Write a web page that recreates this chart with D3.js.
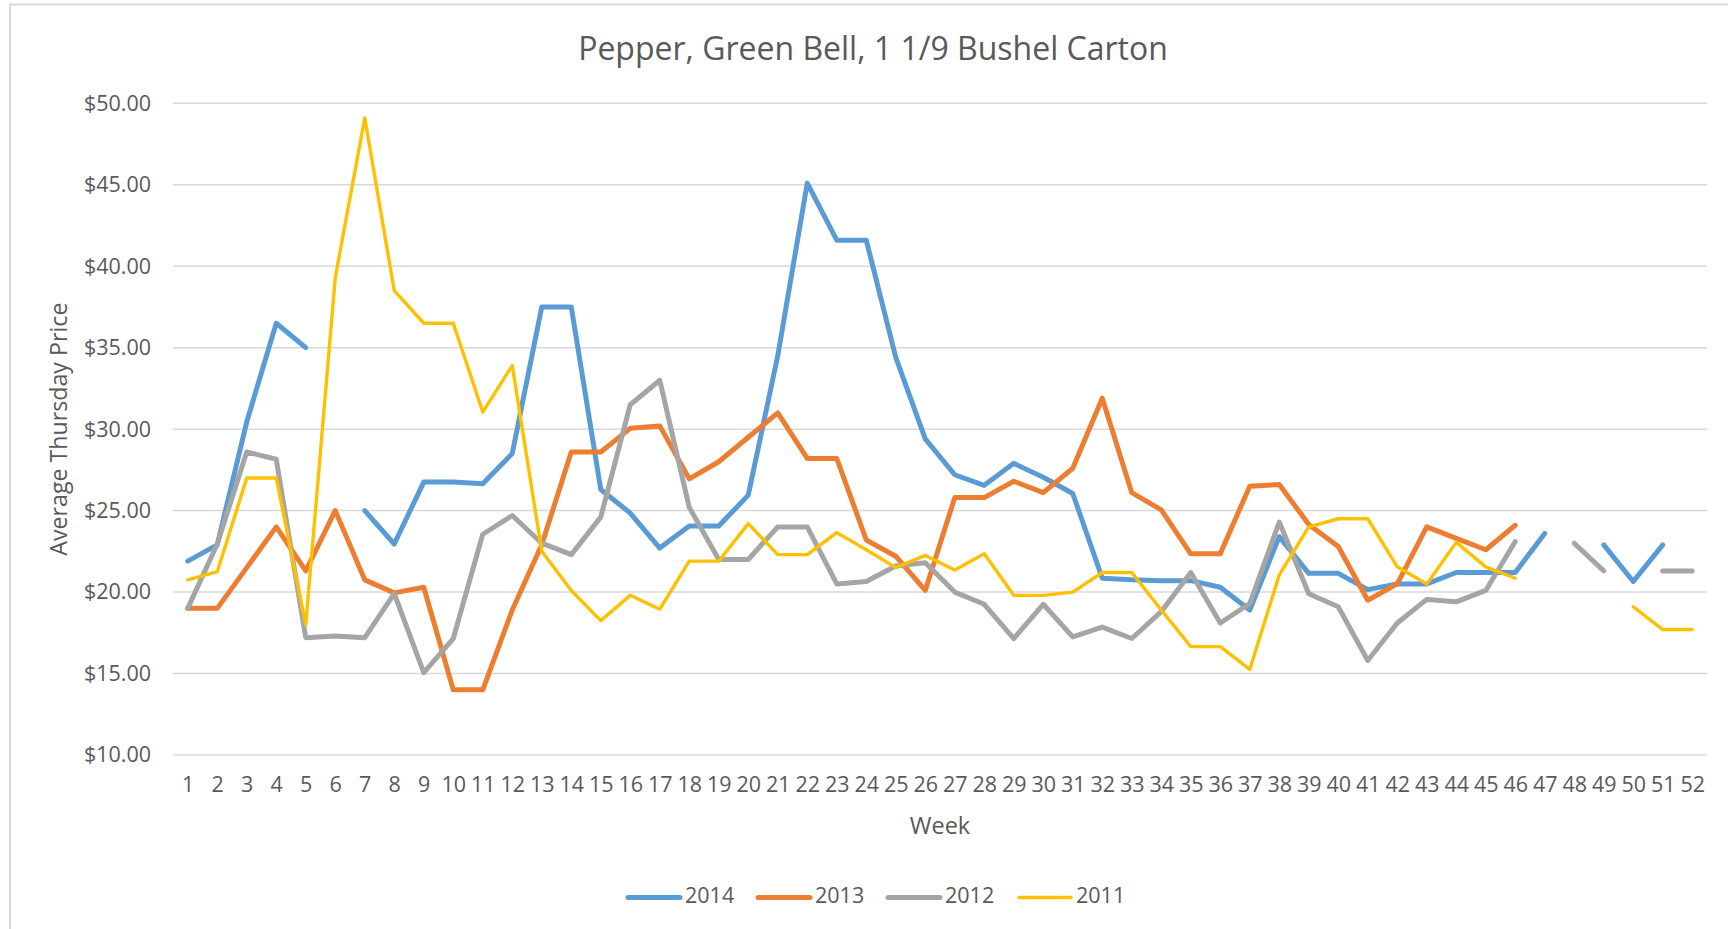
<!DOCTYPE html>
<html>
<head>
<meta charset="utf-8">
<script src="https://cdn.jsdelivr.net/npm/d3@7"></script>
<style>
  html, body { margin: 0; padding: 0; background: #fff; }
  svg { display: block; }
  text { font-family: "Open Sans", "Noto Sans", sans-serif; fill: #595959; }
</style>
</head>
<body>
<svg id="chart" width="1728" height="929"></svg>
<script>
const weeks = d3.range(1, 53);
const seriesNames = ["2014", "2013", "2012", "2011"];
const seriesColors = ["#5B9BD5", "#ED7D31", "#A5A5A5", "#FFC000"];
const seriesWidths = [5, 5, 5, 3.4];

const s2014 = [21.9, 22.9, 30.45, 36.5, 35.0, null, 25.0, 22.95, 26.75, 26.75,
  26.65, 28.5, 37.5, 37.5, 26.3, 24.85, 22.7, 24.05, 24.05, 25.95,
  34.5, 45.1, 41.6, 41.6, 34.4, 29.4, 27.2, 26.55, 27.9, 27.05,
  26.05, 20.85, 20.75, 20.7, 20.7, 20.3, 18.9, 23.4, 21.15, 21.15,
  20.15, 20.5, 20.5, 21.2, 21.2, 21.2, 23.6, null, 22.9, 20.65,
  22.9, null];
const s2013 = [19.0, 19.0, 21.5, 24.0, 21.3, 25.0, 20.75, 19.95, 20.3, 14.0,
  14.0, 18.9, 22.9, 28.6, 28.6, 30.05, 30.2, 26.95, 28.0, 29.5,
  31.0, 28.2, 28.2, 23.2, 22.2, 20.1, 25.8, 25.8, 26.8, 26.1,
  27.6, 31.9, 26.1, 25.05, 22.35, 22.35, 26.5, 26.6, 24.15, 22.8,
  19.5, 20.5, 24.0, 23.3, 22.6, 24.1, null, null, null, null,
  null, null];
const s2012 = [19.0, 22.95, 28.6, 28.15, 17.2, 17.3, 17.2, 19.9, 15.05, 17.15,
  23.55, 24.7, 23.0, 22.3, 24.6, 31.5, 33.0, 25.2, 22.0, 22.0,
  24.0, 24.0, 20.5, 20.65, 21.6, 21.8, 20.0, 19.25, 17.15, 19.25,
  17.25, 17.85, 17.15, 18.8, 21.2, 18.1, 19.3, 24.3, 19.9, 19.1,
  15.8, 18.1, 19.55, 19.4, 20.1, 23.1, null, 23.0, 21.3, null,
  21.3, 21.3];
const s2011 = [20.75, 21.25, 27.0, 27.0, 18.0, 39.3, 49.1, 38.5, 36.5, 36.5,
  31.05, 33.9, 22.5, 20.1, 18.25, 19.8, 18.95, 21.9, 21.9, 24.2,
  22.3, 22.3, 23.65, 22.6, 21.5, 22.25, 21.35, 22.35, 19.8, 19.8,
  20.0, 21.2, 21.2, 18.9, 16.65, 16.65, 15.25, 21.05, 24.0, 24.5,
  24.5, 21.55, 20.5, 23.05, 21.55, 20.85, null, null, null, 19.1,
  17.7, 17.7];
const yTicks = [10, 15, 20, 25, 30, 35, 40, 45, 50];

const titleText = "Pepper, Green Bell, 1 1/9 Bushel Carton";
const yTitle = "Average Thursday Price";
const xTitle = "Week";

const seriesValues = [s2014, s2013, s2012, s2011];

const svg = d3.select("#chart");
const plot = { left: 173, right: 1707, top: 103.3, bottom: 755 };

// outer chart border
svg.append("rect")
  .attr("x", 10).attr("y", 4.5)
  .attr("width", 1760).attr("height", 960)
  .attr("fill", "none").attr("stroke", "#D9D9D9").attr("stroke-width", 2);

const x = d3.scalePoint().domain(weeks).range([plot.left, plot.right]).padding(0.5);
const y = d3.scaleLinear().domain([10, 50]).range([plot.bottom, plot.top]);

// gridlines
svg.append("g").selectAll("line").data(yTicks).join("line")
  .attr("x1", plot.left).attr("x2", plot.right)
  .attr("y1", d => y(d)).attr("y2", d => y(d))
  .attr("stroke", "#D9D9D9").attr("stroke-width", 1.5);

// y axis labels
const yAxis = d3.axisLeft(y).tickValues(yTicks).tickSize(0).tickPadding(0)
  .tickFormat(d => "$" + d3.format(".2f")(d));
const gy = svg.append("g").attr("transform", `translate(${plot.left - 22},0)`).call(yAxis);
gy.select(".domain").remove();
gy.selectAll("text").style("font-size", "21.5px").attr("fill", "#595959")
  .style("font-family", '"Open Sans", sans-serif');

// x axis labels
const xAxis = d3.axisBottom(x).tickSize(0).tickPadding(0);
const gx = svg.append("g").attr("transform", `translate(0,${plot.bottom + 22})`).call(xAxis);
gx.select(".domain").remove();
gx.selectAll("text").style("font-size", "21.5px").attr("fill", "#595959")
  .style("font-family", '"Open Sans", sans-serif');

// lines
const line = d3.line()
  .defined(d => d.v !== null)
  .x(d => x(d.w)).y(d => y(d.v));

seriesValues.forEach((vals, i) => {
  const data = weeks.map((w, j) => ({ w, v: vals[j] }));
  svg.append("path")
    .datum(data)
    .attr("d", line)
    .attr("fill", "none")
    .attr("stroke", seriesColors[i])
    .attr("stroke-width", seriesWidths[i])
    .attr("stroke-linejoin", "round")
    .attr("stroke-linecap", "round");
});

// title
svg.append("text").attr("x", 873).attr("y", 51.5)
  .attr("text-anchor", "middle").attr("dominant-baseline", "middle")
  .style("font-size", "32px").text(titleText);

// axis titles
svg.append("text")
  .attr("transform", `translate(61,${(plot.top + plot.bottom) / 2}) rotate(-90)`)
  .attr("text-anchor", "middle").attr("dominant-baseline", "middle")
  .style("font-size", "23.2px").text(yTitle);
svg.append("text").attr("x", (plot.left + plot.right) / 2).attr("y", 827.5)
  .attr("text-anchor", "middle").attr("dominant-baseline", "middle")
  .style("font-size", "23.5px").text(xTitle);

// legend
const legendX = [628, 758, 888, 1019];
const lg = svg.append("g");
seriesNames.forEach((name, i) => {
  const g = lg.append("g").attr("transform", `translate(${legendX[i]},897.5)`);
  g.append("line").attr("x1", 0).attr("x2", 52).attr("y1", 0).attr("y2", 0)
    .attr("stroke", seriesColors[i]).attr("stroke-width", seriesWidths[i])
    .attr("stroke-linecap", "round");
  g.append("text").attr("x", 57).attr("y", 0).attr("dominant-baseline", "middle")
    .style("font-size", "21.5px").text(name);
});
</script>
</body>
</html>
